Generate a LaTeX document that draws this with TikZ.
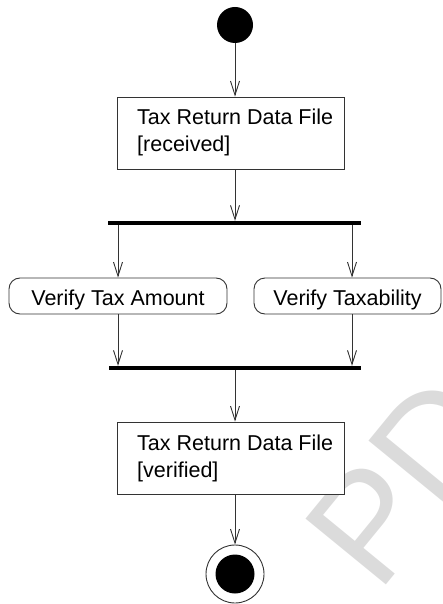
\documentclass[tikz,border=0pt]{standalone}
\usepackage{fontspec}
\setmainfont{Liberation Sans}
\usetikzlibrary{arrows.meta}
\begin{document}
\begin{tikzpicture}[x=1pt,y=-1pt,
  font=\fontsize{21.5}{27}\selectfont,
  flow/.style={draw=black!80, line width=0.9pt, -{Straight Barb[length=14pt,width=9pt]}},
  objbox/.style={draw=black!80, line width=0.9pt, fill=white, minimum width=227pt, minimum height=72pt, inner sep=0pt},
  actbox/.style={draw=black!80, line width=0.9pt, rounded corners=11pt, inner xsep=0pt, inner ysep=0pt,
                 text height=27pt, text depth=9pt, anchor=base},
  lbl/.style={inner sep=0pt, anchor=base west},
  syncbar/.style={fill=black, inner sep=0pt, minimum height=4pt},
  wmark/.style={text=black!14, font=\fontsize{151}{151}\selectfont, rotate=50.7, anchor=base west, inner sep=0pt}]

\useasboundingbox (0,0) rectangle (442,604);

% light watermark in the lower right corner
\begin{scope}
  \clip (0,0) rectangle (442,604);
  \node[wmark] (wm) at (378,595) {PD};
\end{scope}

% initial node
\node[circle, fill=black, minimum size=36pt, inner sep=0pt] (start) at (235,25) {};

% object node: received data file
\node[objbox] (d1) at (230.5,133) {};
\node[lbl] (d1a) at (137,125) {Tax Return Data File};
\node[lbl] (d1b) at (137,152) {[received]};

% fork
\node[syncbar, minimum width=253pt] (fork) at (234.5,223) {};

% parallel actions
\node[actbox, minimum width=218pt] (a1) at (118,305) {Verify Tax Amount};
\node[actbox, minimum width=187pt] (a2) at (347.5,305) {Verify Taxability};

% join
\node[syncbar, minimum width=252pt] (join) at (235,368) {};

% object node: verified data file
\node[objbox] (d2) at (230.5,458) {};
\node[lbl] (d2a) at (137,450) {Tax Return Data File};
\node[lbl] (d2b) at (137,477) {[verified]};

% final node
\node[circle, draw=black!80, line width=0.9pt, fill=white, minimum size=58pt, inner sep=0pt] (fin) at (235,574) {};
\node[circle, fill=black, minimum size=39pt, inner sep=0pt] (findot) at (fin) {};

% control flows
\draw[flow] (start.south) -- (start.south |- d1.north);
\draw[flow] (d1.south -| start) -- (fork.north -| start);
\draw[flow] (fork.south -| a1.north) -- (a1.north);
\draw[flow] ([xshift=4.5pt]a2.north |- fork.south) -- ([xshift=4.5pt]a2.north);
\draw[flow] (a1.south) -- (a1.south |- join.north);
\draw[flow] ([xshift=4.5pt]a2.south) -- ([xshift=4.5pt]a2.south |- join.north);
\draw[flow] (join.south -| start) -- (d2.north -| start);
\draw[flow] (d2.south -| start) -- (fin.north);
\end{tikzpicture}
\end{document}
